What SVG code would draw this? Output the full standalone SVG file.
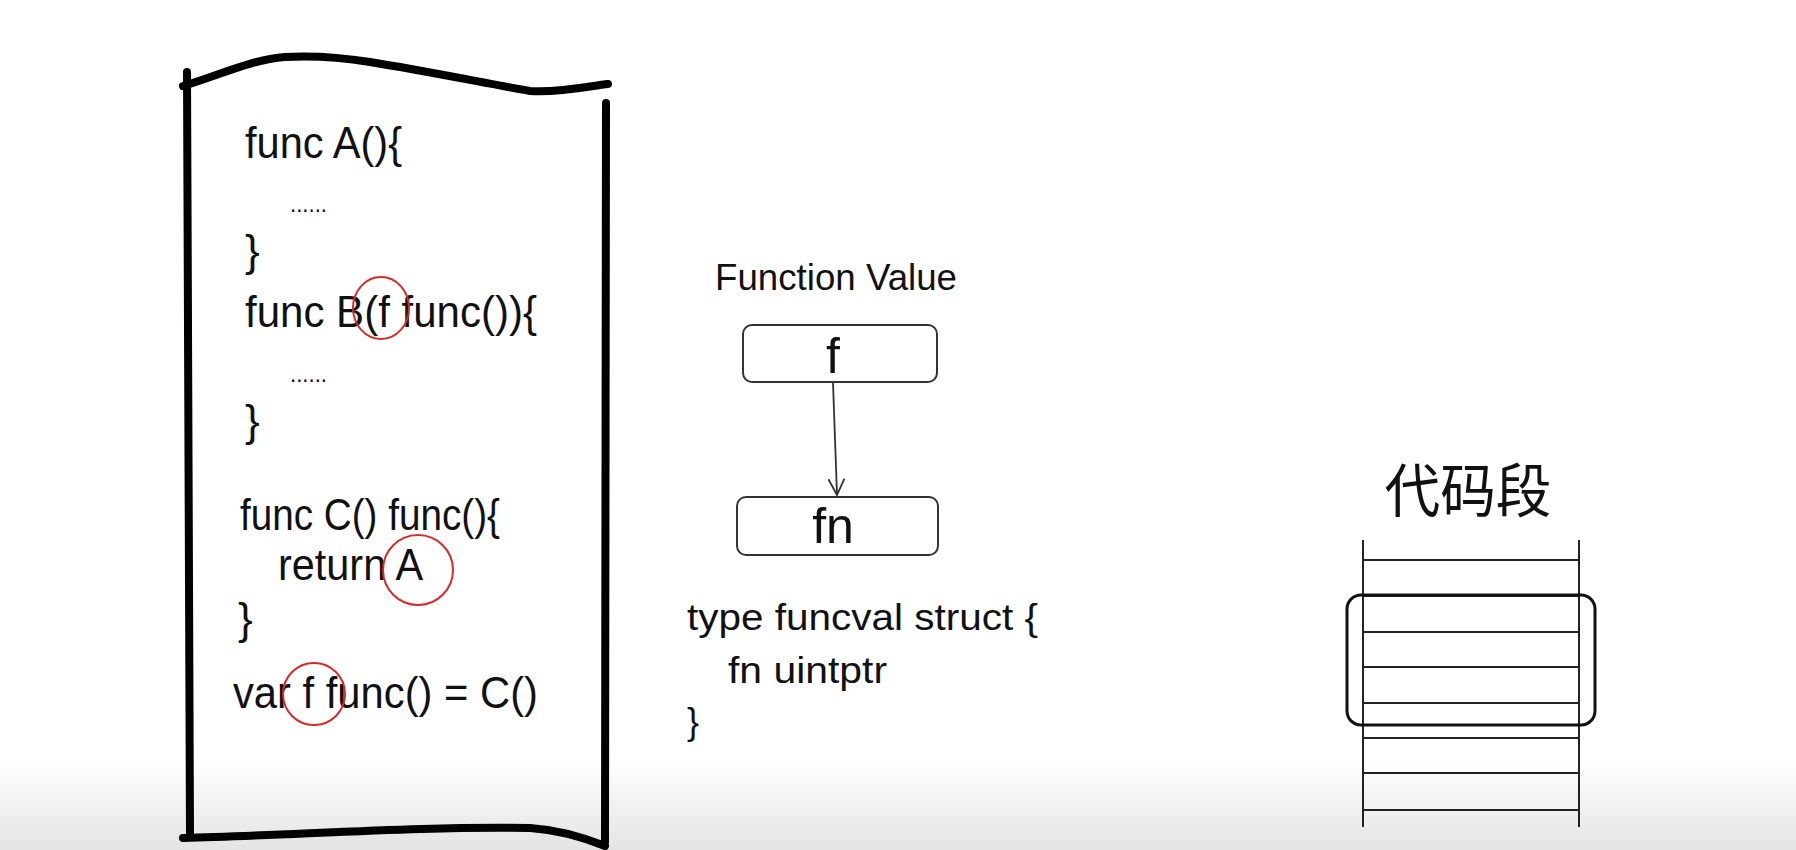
<svg xmlns="http://www.w3.org/2000/svg" width="1796" height="850" viewBox="0 0 1796 850">
<defs>
<linearGradient id="bg" x1="0" y1="0" x2="0" y2="1">
<stop offset="0" stop-color="#ffffff"/>
<stop offset="1" stop-color="#e4e4e4"/>
</linearGradient>
<marker id="vhead" viewBox="0 0 20 20" refX="18" refY="10" markerWidth="20" markerHeight="20" markerUnits="userSpaceOnUse" orient="auto">
<path d="M2,2 L18,10 L2,18" fill="none" stroke="#333" stroke-width="1.8"/>
</marker>
<style>
.code{font-family:"Liberation Sans","DejaVu Sans",sans-serif;font-size:44px;fill:#111;}
.dots{font-family:"Liberation Sans",sans-serif;font-size:24px;fill:#111;}
.mid{font-family:"Liberation Sans","DejaVu Sans",sans-serif;font-size:36px;fill:#111;}
.big{font-family:"Liberation Sans","DejaVu Sans",sans-serif;font-size:50px;fill:#111;text-anchor:middle;}
.cjk{font-family:"Liberation Serif","Noto Sans CJK SC",serif;font-size:58px;fill:#111;text-anchor:middle;}
.ring{fill:none;stroke:#d62a2a;stroke-width:2;}
.frame{fill:none;stroke:#000;stroke-width:8;stroke-linecap:round;stroke-linejoin:round;}
.box{fill:#fff;stroke:#333;stroke-width:2;}
.seg{stroke:#222;stroke-width:2;}
</style>
</defs>
<rect x="0" y="0" width="1796" height="850" fill="#fff"/>
<rect x="0" y="760" width="1796" height="90" fill="url(#bg)"/>

<g id="code-panel">
<path class="frame" d="M187,72 L190,836"/>
<path class="frame" d="M183,86 C220,75 250,60 285,57 C320,55 345,58 370,62 C420,70 480,82 530,91 C560,93 590,86 608,84"/>
<path class="frame" d="M606,103 L605,842"/>
<path class="frame" d="M183,838 C300,835 420,826 530,828 C560,830 590,840 605,846"/>
<text class="code" x="245" y="158" textLength="157" lengthAdjust="spacingAndGlyphs">func A(){</text>
<text class="dots" x="290" y="212" textLength="37" lengthAdjust="spacingAndGlyphs">......</text>
<text class="code" x="245" y="266">}</text>
<text class="code" x="245" y="327" textLength="292" lengthAdjust="spacingAndGlyphs">func B(f func()){</text>
<text class="dots" x="290" y="382" textLength="37" lengthAdjust="spacingAndGlyphs">......</text>
<text class="code" x="245" y="436">}</text>
<text class="code" x="240" y="530" textLength="260" lengthAdjust="spacingAndGlyphs">func C() func(){</text>
<text class="code" x="278" y="580" textLength="145" lengthAdjust="spacingAndGlyphs">return A</text>
<text class="code" x="238" y="634">}</text>
<text class="code" x="233" y="708" textLength="305" lengthAdjust="spacingAndGlyphs">var f func() = C()</text>
<ellipse class="ring" cx="381" cy="308" rx="28" ry="31"/>
<circle class="ring" cx="418" cy="570" r="35"/>
<circle class="ring" cx="314" cy="694" r="31"/>
</g>

<g id="function-value">
<text class="mid" x="715" y="290" font-size="32" textLength="242" lengthAdjust="spacingAndGlyphs">Function Value</text>
<g id="node-f">
<rect class="box" x="743" y="325" width="194" height="57" rx="9"/>
<text class="big" x="833" y="373">f</text>
</g>
<g id="node-fn">
<rect class="box" x="737" y="497" width="201" height="58" rx="9"/>
<text class="big" x="833" y="543">fn</text>
</g>
<text class="mid" x="687" y="630" textLength="351" lengthAdjust="spacingAndGlyphs">type funcval struct {</text>
<text class="mid" x="728" y="683" textLength="159" lengthAdjust="spacingAndGlyphs">fn uintptr</text>
<text class="mid" x="687" y="734" font-size="40">}</text>
</g>

<g id="connectors">
<line x1="833" y1="383" x2="837" y2="495" stroke="#333" stroke-width="1.8" marker-end="url(#vhead)"/>
</g>

<g id="code-segment">
<text class="cjk" x="1468" y="512" textLength="167" lengthAdjust="spacingAndGlyphs">代码段</text>
<line class="seg" x1="1363" y1="540" x2="1363" y2="827" stroke-width="2.5"/>
<line class="seg" x1="1579" y1="540" x2="1579" y2="827" stroke-width="2.5"/>
<line class="seg" x1="1363" y1="560" x2="1579" y2="560"/>
<line class="seg" x1="1363" y1="596" x2="1579" y2="596"/>
<line class="seg" x1="1363" y1="632" x2="1579" y2="632"/>
<line class="seg" x1="1363" y1="667" x2="1579" y2="667"/>
<line class="seg" x1="1363" y1="703" x2="1579" y2="703"/>
<line class="seg" x1="1363" y1="738" x2="1579" y2="738"/>
<line class="seg" x1="1363" y1="773" x2="1579" y2="773"/>
<line class="seg" x1="1363" y1="810" x2="1579" y2="810"/>
<rect x="1347" y="595" width="248" height="130" rx="14" fill="none" stroke="#111" stroke-width="3"/>
</g>
</svg>
